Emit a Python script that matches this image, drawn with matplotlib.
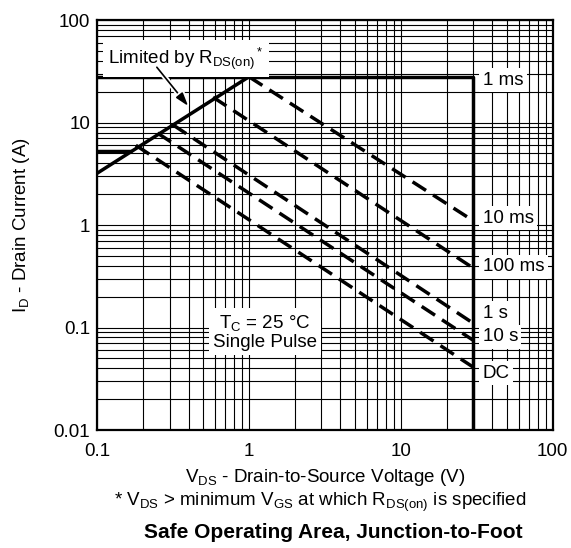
import matplotlib
matplotlib.use("Agg")
import matplotlib.pyplot as plt
import matplotlib.patheffects as pe

plt.rcParams['font.family'] = ['Liberation Sans', 'DejaVu Sans']
plt.rcParams['mathtext.fontset'] = 'custom'
plt.rcParams['mathtext.rm'] = 'Liberation Sans'
plt.rcParams['mathtext.it'] = 'Liberation Sans:italic'
plt.rcParams['mathtext.default'] = 'regular'

# boundary lines (V, A)
rds_v = [0.1, 1.0]
rds_i = [3.2, 28]
ms1_v = [0.1, 30, 30]
ms1_i = [28, 28, 0.01]
flat_v = [0.1, 0.17]
flat_i = [5.3, 5.3]

# pulse curves: start on the RDS(on) line, end at 30 V
pulse_names = ['10 ms', '100 ms', '1 s', '10 s', 'DC']
pulse_v = [[1.0, 30], [0.58, 30], [0.316, 30], [0.25, 30], [0.18, 30]]
pulse_i = [[28, 1.1], [17.7, 0.38], [9.5, 0.11], [7.9, 0.075], [6.0, 0.041]]

# label anchors (y position of each right-hand label)
label_names = ['1 ms', '10 ms', '100 ms', '1 s', '10 s', 'DC']
label_y = [26, 1.17, 0.39, 0.138, 0.081, 0.036]

fs = 13.5

fig = plt.figure(figsize=(5.71, 5.48), dpi=100)
ax = fig.add_axes([0.170, 0.2153, 0.798, 0.748])
ax.set_xscale('log')
ax.set_yscale('log')
ax.set_xlim(0.1, 100)
ax.set_ylim(0.01, 100)

ax.grid(True, which='both', color='black', linewidth=0.8, zorder=1)
ax.set_axisbelow(True)
for s in ax.spines.values():
    s.set_linewidth(1.6)

ax.set_xticks([0.1, 1, 10, 100])
ax.set_xticklabels(['0.1', '1', '10', '100'])
ax.set_yticks([0.01, 0.1, 1, 10, 100])
ax.set_yticklabels(['0.01', '0.1', '1', '10', '100'])
ax.tick_params(which='both', length=0, labelsize=fs)
ax.tick_params(axis='x', pad=9)
ax.tick_params(axis='y', pad=5)

lw = 2.5
ax.plot(rds_v, rds_i, color='black', lw=lw, zorder=3, solid_capstyle='butt')
ax.plot(ms1_v, ms1_i, color='black', lw=lw, zorder=3, solid_capstyle='butt')
ax.plot(flat_v, flat_i, color='black', lw=lw, zorder=3, solid_capstyle='butt')
for v, i in zip(pulse_v, pulse_i):
    ax.plot(v, i, color='black', lw=lw, dashes=(4.6, 2.4), zorder=3,
            dash_capstyle='butt')

box = dict(facecolor='white', edgecolor='none', pad=2.5)
for name, y in zip(label_names, label_y):
    ax.text(34.5, y, name, fontsize=fs, va='center', ha='left',
            bbox=box, zorder=4)

ax.text(0.385, 42, r'Limited by R$_{DS(on)}$$^*$', fontsize=fs,
        ha='center', va='center', zorder=4,
        bbox=dict(facecolor='white', edgecolor='none', pad=4))

ax.annotate('', xy=(0.409, 13.8), xytext=(0.241, 36.4),
            arrowprops=dict(arrowstyle='-|>,head_length=0.8,head_width=0.25',
                            color='black', lw=1.2,
                            path_effects=[pe.withStroke(linewidth=3.8, foreground='white')]),
            zorder=5)

ax.text(1.27, 0.091, 'T$_C$ = 25 °C\nSingle Pulse', fontsize=fs,
        ha='center', va='center', zorder=4, linespacing=1.05,
        bbox=dict(facecolor='white', edgecolor='none', pad=3))

fig.text(0.0385, 0.5893, 'I$_D$ - Drain Current (A)', fontsize=fs,
         rotation=90, ha='center', va='center')
fig.text(0.569, 0.128, 'V$_{DS}$ - Drain-to-Source Voltage (V)', fontsize=fs,
         ha='center', va='center')
fig.text(0.561, 0.084, '* V$_{DS}$ > minimum V$_{GS}$ at which R$_{DS(on)}$ is specified',
         fontsize=fs, ha='center', va='center')
fig.text(0.583, 0.029, 'Safe Operating Area, Junction-to-Foot', fontsize=15,
         fontweight='bold', ha='center', va='center')

fig.savefig('out.png', dpi=100)
